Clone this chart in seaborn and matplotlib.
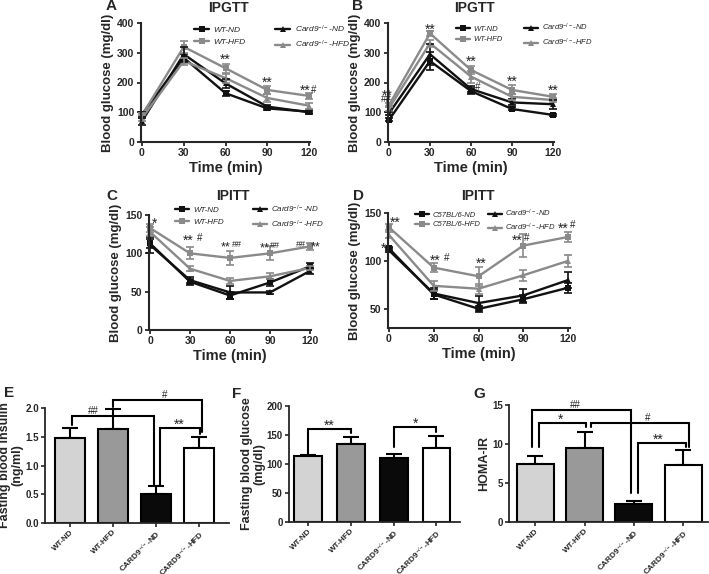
import numpy as np
import pandas as pd
import matplotlib
matplotlib.use("Agg")
import matplotlib.pyplot as plt
import seaborn as sns
from matplotlib.lines import Line2D

sns.set_theme(style="ticks")
plt.rcParams['font.family'] = ['Liberation Sans', 'DejaVu Sans']
plt.rcParams['mathtext.fontset'] = 'custom'
plt.rcParams['mathtext.rm'] = 'Liberation Sans'
plt.rcParams['mathtext.it'] = 'Liberation Sans:italic'
plt.rcParams['mathtext.bf'] = 'Liberation Sans:bold'

# ---------------- data ----------------
times = [0, 30, 60, 90, 120]
groups = ["WT-ND", "WT-HFD", "Card9-ND", "Card9-HFD"]

# Panel A (IPGTT)
A_wt_nd = [93, 283, 164, 113, 102]
A_wt_nd_err = [8, 12, 8, 5, 5]
A_wt_hfd = [90, 320, 248, 175, 155]
A_wt_hfd_err = [8, 20, 15, 12, 10]
A_ko_nd = [70, 295, 197, 119, 100]
A_ko_nd_err = [12, 25, 15, 5, 5]
A_ko_hfd = [80, 272, 215, 148, 122]
A_ko_hfd_err = [10, 12, 15, 12, 10]

# Panel B (IPGTT)
B_wt_nd = [74, 272, 171, 111, 91]
B_wt_nd_err = [5, 30, 10, 5, 4]
B_wt_hfd = [124, 365, 242, 175, 152]
B_wt_hfd_err = [8, 8, 12, 15, 8]
B_ko_nd = [96, 295, 178, 133, 127]
B_ko_nd_err = [5, 35, 10, 10, 15]
B_ko_hfd = [113, 332, 220, 152, 141]
B_ko_hfd_err = [8, 12, 20, 10, 8]

# Panel C (IPITT)
C_wt_nd = [113, 63, 45, 62, 83]
C_wt_nd_err = [6, 4, 4, 5, 4]
C_wt_hfd = [133, 100, 94, 100, 109]
C_wt_hfd_err = [5, 8, 9, 9, 5]
C_ko_nd = [111, 65, 49, 49, 77]
C_ko_nd_err = [10, 4, 8, 2, 4]
C_ko_hfd = [128, 80, 64, 70, 81]
C_ko_hfd_err = [6, 3, 4, 4, 3]

# Panel D (IPITT)
D_wt_nd = [113, 65, 50, 60, 72]
D_wt_nd_err = [2, 5, 3, 4, 5]
D_wt_hfd = [135, 93, 84, 116, 125]
D_wt_hfd_err = [3, 5, 10, 12, 5]
D_ko_nd = [111, 66, 56, 64, 80]
D_ko_nd_err = [2, 6, 7, 7, 8]
D_ko_hfd = [127, 74, 71, 85, 100]
D_ko_hfd_err = [3, 5, 5, 6, 6]

# Bar panels
bar_cats = ["WT-ND", "WT-HFD", "CARD9$^{-/-}$-ND", "CARD9$^{-/-}$-HFD"]
E_insulin = [1.48, 1.63, 0.51, 1.30]
E_insulin_err = [0.18, 0.35, 0.14, 0.20]
F_glucose = [113, 135, 111, 128]
F_glucose_err = [3, 11, 7, 20]
G_homa = [7.5, 9.5, 2.3, 7.3]
G_homa_err = [1.0, 2.0, 0.4, 1.9]

# ---------------- style ----------------
BLACK = "#111111"
GRAY = "#8a8a8a"
line_colors = {"WT-ND": BLACK, "WT-HFD": GRAY, "Card9-ND": BLACK, "Card9-HFD": GRAY}
line_markers = {"WT-ND": "s", "WT-HFD": "s", "Card9-ND": "^", "Card9-HFD": "^"}
bar_colors = ["#d3d3d3", "#999999", "#0a0a0a", "#ffffff"]

W, H = 709, 574
fig = plt.figure(figsize=(W / 100, H / 100), dpi=100)


def add_ax(l, t, r, b):
    return fig.add_axes([l / W, 1 - b / H, (r - l) / W, (b - t) / H])


def line_panel(ax, means, errs, ylim, yticks, legend_labels, leg_x, leg_y, colsp,
               legsize, labsp=0.45):
    rows = []
    for g in groups:
        for t, v in zip(times, means[g]):
            rows.append({"time": t, "value": v, "group": g})
    df = pd.DataFrame(rows)
    sns.lineplot(data=df, x="time", y="value", hue="group", style="group",
                 hue_order=groups, style_order=groups,
                 palette=line_colors, markers=line_markers, dashes=False,
                 markersize=4.5, linewidth=1.7, markeredgewidth=0,
                 errorbar=None, legend=False, ax=ax)
    for g in groups:
        ax.errorbar(times, means[g], yerr=errs[g], fmt="none", ecolor=line_colors[g],
                    elinewidth=1.2, capsize=3, capthick=1.2, clip_on=False)
    for l in ax.lines:
        l.set_clip_on(False)
    ax.set_xlim(-1, 121)
    ax.set_ylim(*ylim)
    ax.set_xticks([0, 30, 60, 90, 120])
    ax.set_yticks(yticks)
    ax.set_xlabel("Time (min)", fontsize=10.5, fontweight="bold", labelpad=2)
    ax.set_ylabel("Blood glucose (mg/dl)", fontsize=9.5, fontweight="bold", labelpad=2)
    sns.despine(ax=ax)
    for s in ["left", "bottom"]:
        ax.spines[s].set_linewidth(1.5)
    ax.tick_params(axis="both", width=1.3, length=3, labelsize=7.5, pad=1.5)
    for lab in ax.get_xticklabels() + ax.get_yticklabels():
        lab.set_fontweight("bold")
    handles = [Line2D([], [], color=line_colors[g], marker=line_markers[g],
                      markersize=4, lw=1.7, markeredgewidth=0) for g in groups]
    ax.legend(handles, legend_labels, ncol=2, loc="upper left",
              bbox_to_anchor=(leg_x, leg_y), frameon=False,
              prop={"size": legsize, "style": "italic"}, handlelength=1.8,
              handletextpad=0.5, columnspacing=colsp, labelspacing=labsp,
              borderpad=0, borderaxespad=0)


def star(ax, x, y, s, size=10):
    ax.text(x, y, s, ha="center", va="center", fontsize=size, color="#222222",
            clip_on=False)


lab_wt = ["WT-ND", "WT-HFD", "Card9$^{-/-}$-ND", "Card9$^{-/-}$-HFD"]
lab_c57 = ["C57BL/6-ND", "C57BL/6-HFD", "Card9$^{-/-}$-ND", "Card9$^{-/-}$-HFD"]

# ---- Panel A
axA = add_ax(140.6, 23, 310.4, 142)
line_panel(axA,
           {"WT-ND": A_wt_nd, "WT-HFD": A_wt_hfd, "Card9-ND": A_ko_nd, "Card9-HFD": A_ko_hfd},
           {"WT-ND": A_wt_nd_err, "WT-HFD": A_wt_hfd_err, "Card9-ND": A_ko_nd_err, "Card9-HFD": A_ko_hfd_err},
           (0, 400), [0, 100, 200, 300, 400], lab_wt, 0.315, 0.995, 3.6, 6.0)
star(axA, 60, 276, "**")
star(axA, 90, 198, "**")
star(axA, 117, 171, "**")
star(axA, 123, 174, "#", 7)

# ---- Panel B
axB = add_ax(387.6, 23, 554.4, 142)
line_panel(axB,
           {"WT-ND": B_wt_nd, "WT-HFD": B_wt_hfd, "Card9-ND": B_ko_nd, "Card9-HFD": B_ko_hfd},
           {"WT-ND": B_wt_nd_err, "WT-HFD": B_wt_hfd_err, "Card9-ND": B_ko_nd_err, "Card9-HFD": B_ko_hfd_err},
           (0, 400), [0, 100, 200, 300, 400], lab_wt, 0.41, 1.01, 2.8, 5.5)
star(axB, -1, 157, "**")
star(axB, -2, 145, "##", 7)
star(axB, 1, 92, "*", 9)
star(axB, 30, 377, "**")
star(axB, 60, 269, "**")
star(axB, 65, 186, "#", 7)
star(axB, 90, 201, "**")
star(axB, 120, 171, "**")

# ---- Panel C
axC = add_ax(148.7, 215, 311.3, 330)
line_panel(axC,
           {"WT-ND": C_wt_nd, "WT-HFD": C_wt_hfd, "Card9-ND": C_ko_nd, "Card9-HFD": C_ko_hfd},
           {"WT-ND": C_wt_nd_err, "WT-HFD": C_wt_hfd_err, "Card9-ND": C_ko_nd_err, "Card9-HFD": C_ko_hfd_err},
           (0, 150), [0, 50, 100, 150], lab_wt, 0.16, 1.10, 3.6, 5.8)
star(axC, 3, 138, "*")
star(axC, 29, 117, "**")
star(axC, 37.5, 120, "#", 7)
star(axC, 57, 108, "**", 9)
star(axC, 65, 111, "##", 6.5)
star(axC, 86, 107, "**", 9)
star(axC, 93.5, 110, "##", 6.5)
star(axC, 113.5, 111, "##", 6.5)
star(axC, 124, 108, "**", 9)

# ---- Panel D
axD = add_ax(387.5, 213, 569.5, 328)
line_panel(axD,
           {"WT-ND": D_wt_nd, "WT-HFD": D_wt_hfd, "Card9-ND": D_ko_nd, "Card9-HFD": D_ko_hfd},
           {"WT-ND": D_wt_nd_err, "WT-HFD": D_wt_hfd_err, "Card9-ND": D_ko_nd_err, "Card9-HFD": D_ko_hfd_err},
           (30, 150), [50, 100, 150], lab_c57, 0.15, 1.045, 1.0, 5.5, 0.3)
star(axD, 4, 140, "**")
star(axD, -4, 113, "*")
star(axD, 31, 100, "**")
star(axD, 38.7, 103, "#", 7)
star(axD, 62, 97, "**")
star(axD, 85.7, 121, "**")
star(axD, 92.4, 124, "#", 7)
star(axD, 117, 134, "**")
star(axD, 123.3, 137, "#", 7)

# titles
for txt, x, y in [("IPGTT", 228, 8), ("IPGTT", 474, 8), ("IPITT", 233, 196), ("IPITT", 478, 196)]:
    fig.text(x / W, 1 - y / H, txt, fontsize=10, fontweight="bold", ha="center", va="center")


# ---------------- bar panels ----------------
def bar_panel(ax, vals, errs, ylim, yticks, ylabel, xlim, width):
    df = pd.DataFrame({"cat": bar_cats, "val": vals})
    sns.barplot(data=df, x="cat", y="val", hue="cat", palette=bar_colors,
                legend=False, edgecolor="black", linewidth=1.5, width=width,
                errorbar=None, ax=ax, zorder=2)
    ax.errorbar(range(4), vals, yerr=[[0] * 4, errs], fmt="none", ecolor="black",
                elinewidth=1.5, capsize=6, capthick=1.5, zorder=1, clip_on=False)
    ax.set_xlim(*xlim)
    ax.set_ylim(*ylim)
    ax.set_yticks(yticks)
    ax.set_xlabel("")
    ax.set_ylabel(ylabel, fontsize=9, fontweight="bold", labelpad=1, linespacing=1.05)
    sns.despine(ax=ax)
    for s in ["left", "bottom"]:
        ax.spines[s].set_linewidth(1.3)
    ax.tick_params(axis="both", width=1.2, length=3, labelsize=7, pad=1.5)
    ax.tick_params(axis="x", pad=1)
    ax.set_xticks(range(4))
    ax.set_xticklabels(bar_cats, rotation=45, ha="right", rotation_mode="anchor",
                       fontsize=5.9, fontweight="bold")
    for lab in ax.get_yticklabels():
        lab.set_fontweight("bold")


def bracket(ax, x1, x2, ytop, y1, y2, text, tx, size=10, dy=0.0):
    ax.plot([x1, x1, x2, x2], [y1, ytop, ytop, y2], color="black", lw=1.5,
            clip_on=False, solid_joinstyle="miter")
    ax.text(tx, ytop + dy, text, ha="center", va="bottom", fontsize=size,
            color="#222222", clip_on=False)


# ---- Panel E
axE = add_ax(45, 408, 229, 523)
bar_panel(axE, E_insulin, E_insulin_err, (0, 2.0), [0.0, 0.5, 1.0, 1.5, 2.0],
          "Fasting blood insulin\n(ng/ml)", (-0.58, 3.7), 0.7)
axE.set_yticklabels(["0.0", "0.5", "1.0", "1.5", "2.0"], fontweight="bold")
bracket(axE, 0.05, 1.95, 1.86, 1.70, 0.66, "##", 0.55, 7)
bracket(axE, 1.0, 3.07, 2.14, 2.02, 1.58, "#", 2.2, 7)
bracket(axE, 2.1, 3.02, 1.65, 0.66, 1.55, "**", 2.55, 10, -0.07)

# ---- Panel F
axF = add_ax(289, 406, 460, 522)
bar_panel(axF, F_glucose, F_glucose_err, (0, 200), [0, 50, 100, 150, 200],
          "Fasting blood glucose\n(mg/dl)", (-0.45, 3.55), 0.65)
bracket(axF, 0.0, 1.0, 160, 116, 153, "**", 0.5, 10, -7)
bracket(axF, 2.0, 3.0, 164, 130, 155, "*", 2.5, 10, -7)

# ---- Panel G
axG = add_ax(509, 405, 708, 522)
bar_panel(axG, G_homa, G_homa_err, (0, 15), [0, 5, 10, 15],
          "HOMA-IR", (-0.53, 3.5), 0.75)
bracket(axG, -0.06, 1.95, 14.4, 9.6, 3.7, "##", 0.81, 7)
bracket(axG, 0.08, 1.03, 12.7, 9.6, 12.2, "*", 0.51, 10, -0.5)
bracket(axG, 1.14, 3.12, 12.7, 12.2, 9.6, "#", 2.27, 7)
bracket(axG, 2.09, 3.05, 10.1, 3.7, 9.6, "**", 2.5, 10, -0.5)

# ---------------- panel letters ----------------
for letter, x, y in [("A", 106, 6), ("B", 352, 6), ("C", 106, 196), ("D", 353, 196),
                     ("E", 4, 393), ("F", 232, 394), ("G", 473, 394)]:
    fig.text(x / W, 1 - y / H, letter, fontsize=11, fontweight="bold", va="center")

fig.savefig("out.png", dpi=100)
